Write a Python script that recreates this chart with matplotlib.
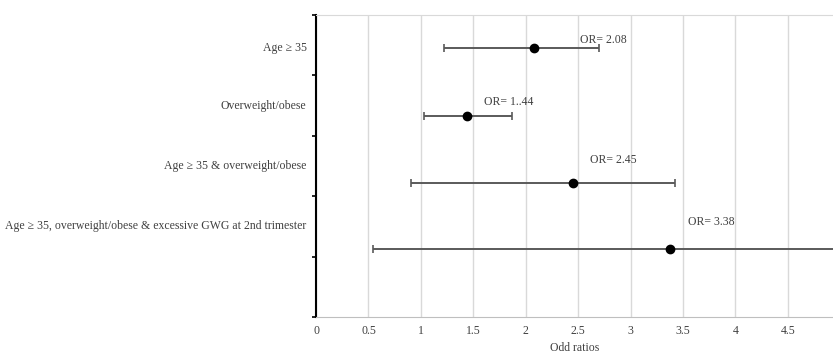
import numpy as np
import matplotlib.pyplot as plt

plt.rcParams['font.family'] = ['Liberation Serif', 'DejaVu Serif']

labels = ["Age \u2265 35", "Overweight/obese", "Age \u2265 35 & overweight/obese",
          "Age \u2265 35, overweight/obese & excessive GWG at 2nd trimester"]
odds = [2.08, 1.44, 2.45, 3.38]
lower = [1.22, 1.03, 0.91, 0.54]
upper = [2.70, 1.87, 3.42, 21.0]
or_text = ["OR= 2.08", "OR= 1..44", "OR= 2.45", "OR= 3.38"]
ypos = [4.45, 3.33, 2.22, 1.12]
label_y = [4.45, 3.5, 2.5, 1.5]
text_pos = [(2.52, 4.59), (1.6, 3.56), (2.61, 2.6), (3.55, 1.57)]

fig = plt.figure(figsize=(8.33, 3.54), dpi=100)
ax = fig.add_axes([0.3794, 0.1045, 0.6206, 0.8531])

odds = np.array(odds)
err = [odds - np.array(lower), np.array(upper) - odds]
ax.errorbar(odds, ypos, xerr=err, fmt='o', color='black', markersize=6,
            ecolor='#5a5a5a', elinewidth=1.4, capsize=3, capthick=1.2, zorder=3)

for i in range(len(labels)):
    ax.text(-0.09, label_y[i], labels[i], ha='right', va='center', fontsize=8.5,
            color='#404040')
    ax.text(text_pos[i][0], text_pos[i][1], or_text[i], ha='left', va='center',
            fontsize=8.5, color='#404040')

ax.set_xlim(0, 4.93)
ax.set_ylim(0, 5)
ax.set_xticks(np.arange(0, 5.0, 0.5))
ax.set_xticklabels(["0", "0.5", "1", "1.5", "2", "2.5", "3", "3.5", "4", "4.5"])
ax.set_yticks(np.arange(0, 6, 1))
ax.set_yticklabels([])
ax.tick_params(axis='x', length=0, labelsize=8.5, labelcolor='#404040', pad=6)
ax.tick_params(axis='y', direction='out', length=3, width=1.2, color='black')
ax.grid(axis='x', color='#d9d9d9', linewidth=1)
ax.set_axisbelow(True)
ax.spines['left'].set_linewidth(1.5)
ax.spines['left'].set_color('black')
ax.spines['bottom'].set_color('#bfbfbf')
ax.spines['top'].set_color('#d9d9d9')
ax.spines['right'].set_visible(False)
ax.set_xlabel("Odd ratios", fontsize=8.5, color='#404040', labelpad=3)

fig.savefig("out.png", dpi=100)
